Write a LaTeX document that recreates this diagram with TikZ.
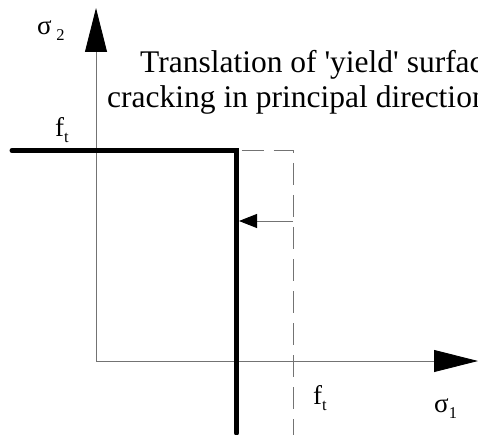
\documentclass[tikz,border=0pt]{standalone}
\usepackage{fontspec}
\setmainfont{Liberation Serif}
\usetikzlibrary{arrows.meta}

\newcommand\lowidx[1]{\raisebox{-6pt}{\fontsize{16.5}{16.5}\selectfont #1}}

\begin{document}
\begin{tikzpicture}[
    x=1pt, y=-1pt,
    every node/.style={font=\fontsize{27}{30}\selectfont, inner sep=0pt, anchor=base west},
    title/.style={font=\fontsize{31.5}{36}\selectfont},
    axis/.style={draw=black!55, line width=0.9pt, -{Triangle[length=44pt, width=22pt, color=black]}},
    surface/.style={line width=5pt, line cap=round},
    shifted/.style={draw=black!55, line width=0.9pt, dash pattern=on 22pt off 10pt, dash phase=-5pt},
    move/.style={draw=black!55, line width=0.9pt, -{Triangle[length=18pt, width=14pt, color=black]}}
]
\clip (0,0) rectangle (478,435);

% axes
\coordinate (O) at (96,361);
\coordinate (ytip) at (96,8);
\coordinate (xtip) at (478,361);
\draw[axis] (O) -- (ytip);
\draw[axis] (O) -- (xtip);

% yield surface before and after
\coordinate (L) at (12,150.5);
\coordinate (C) at (236.5,150.5);
\coordinate (B) at (236.5,433);
\coordinate (Cs) at (293,150.5);
\coordinate (Bs) at (293,440);
\draw[shifted] (C) -- (Cs) -- (Bs);
\draw[surface] (L) -- (C) -- (B);

\coordinate (from) at (293,221);
\coordinate (to) at (239,221);
\draw[move] (from) -- (to);

% labels
\node (s2) at (37,35) {σ\,\lowidx{2}};
\node (s1) at (434,412) {σ\lowidx{1}};
\node (fty) at (55,137) {f\lowidx{t}};
\node (ftx) at (313,404) {f\lowidx{t}};
\node[title] (tl1) at (140,73) {Translation of \textquotesingle yield\textquotesingle\ surface};
\node[title] (tl2) at (107,108) {cracking in principal direction};
\end{tikzpicture}
\end{document}
